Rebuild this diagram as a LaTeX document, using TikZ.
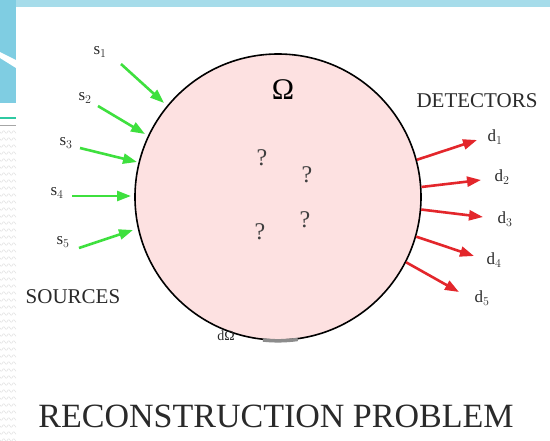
\documentclass[tikz,border=0pt]{standalone}
\usepackage{fontspec}
\setmainfont{Liberation Serif}
\usetikzlibrary{arrows.meta}
\definecolor{bandblue}{HTML}{A6DCEA}
\definecolor{stripblue}{HTML}{7FCDE2}
\definecolor{pinkfill}{HTML}{FDE1E1}
\definecolor{srcgreen}{HTML}{3EE03E}
\definecolor{detred}{HTML}{E3262B}
\definecolor{txt}{HTML}{2A2A2A}
\definecolor{tealline}{HTML}{2FC9A2}
\tikzset{
  lbl/.style={text=txt, inner sep=0pt, font=\fontsize{17}{20}\selectfont},
  captext/.style={text=txt, inner sep=0pt, font=\fontsize{21}{24}\selectfont},
  qm/.style={text=txt!90, inner sep=0pt, font=\fontsize{24}{28}\selectfont},
  srcarrow/.style={srcgreen, line width=2.6pt, -{Triangle[length=14pt,width=10pt]}},
  detarrow/.style={detred, line width=2.6pt, -{Triangle[length=14pt,width=10pt]}},
}
\begin{document}
\begin{tikzpicture}[x=1pt,y=-1pt]
\useasboundingbox (0,0) rectangle (550,440);
% slide background
\fill[white] (0,0) rectangle (550,440);
\fill[bandblue] (0,0) rectangle (550,7);
\fill[stripblue] (0,0) rectangle (16,103);
\fill[white] (0,52) -- (16,60) -- (16,68) -- (0,58) -- cycle;
\draw[tealline, line width=1.5pt] (0,118) -- (16,118);
\draw[gray!70, line width=1pt] (0,125) -- (16,125);
\foreach \yy in {132,139,...,440} {
  \draw[gray!25, line width=0.5pt] plot[domain=0:16, samples=40, smooth] (\x, {\yy+1.2*sin(\x*72)});
}
% domain
\node[circle, draw=black, line width=1.6pt, fill=pinkfill, minimum size=286pt, inner sep=0pt] (c) at (278,197) {};
\draw[gray!90, line width=3.5pt] (c.-96) arc[start angle=-96, end angle=-82, radius=143pt];
\node[text=black, inner sep=0pt, font=\fontsize{30}{32}\selectfont] (om) at (283,90) {Ω};
\node[qm] (q1) at (262,158) {?};
\node[qm] (q2) at (307,175) {?};
\node[qm] (q3) at (260,232) {?};
\node[qm] (q4) at (305,220) {?};
\node[lbl, font=\fontsize{14}{16}\selectfont] (dom) at (226,336) {dΩ};
% sources
\node[lbl] (s1) at (100,52) {s$_1$};
\node[lbl] (s2) at (85,98) {s$_2$};
\node[lbl] (s3) at (66,143) {s$_3$};
\node[lbl] (s4) at (57,193) {s$_4$};
\node[lbl] (s5) at (63,242) {s$_5$};
\coordinate (a1) at (121,64);
\coordinate (a2) at (98,106);
\coordinate (a3) at (80,148);
\coordinate (a4) at (72,196);
\coordinate (a5) at (79,248);
\coordinate (b1) at (164,103);
\coordinate (b2) at (145,134);
\coordinate (b3) at (137,162);
\coordinate (b4) at (131,196);
\coordinate (b5) at (133,230);
\draw[srcarrow] (a1) -- (b1);
\draw[srcarrow] (a2) -- (b2);
\draw[srcarrow] (a3) -- (b3);
\draw[srcarrow] (a4) -- (b4);
\draw[srcarrow] (a5) -- (b5);
\node[captext] (src) at (73,297) {SOURCES};
% detectors
\node[captext] (det) at (477,101) {DETECTORS};
\node[lbl] (d1) at (495,137) {d$_1$};
\node[lbl] (d2) at (502,177) {d$_2$};
\node[lbl] (d3) at (505,219) {d$_3$};
\node[lbl] (d4) at (494,260) {d$_4$};
\node[lbl] (d5) at (482,298) {d$_5$};
\coordinate (e1) at (477,140);
\coordinate (e2) at (481,180);
\coordinate (e3) at (483,217);
\coordinate (e4) at (474,256);
\coordinate (e5) at (459,292);
\draw[detarrow] (c.15) -- (e1);
\draw[detarrow] (c.4) -- (e2);
\draw[detarrow] (c.-5) -- (e3);
\draw[detarrow] (c.-16) -- (e4);
\draw[detarrow] (c.-27) -- (e5);
% title
\node[text=txt, inner sep=0pt, font=\fontsize{34}{38}\selectfont] (title) at (276,416) {RECONSTRUCTION PROBLEM};
\end{tikzpicture}
\end{document}
